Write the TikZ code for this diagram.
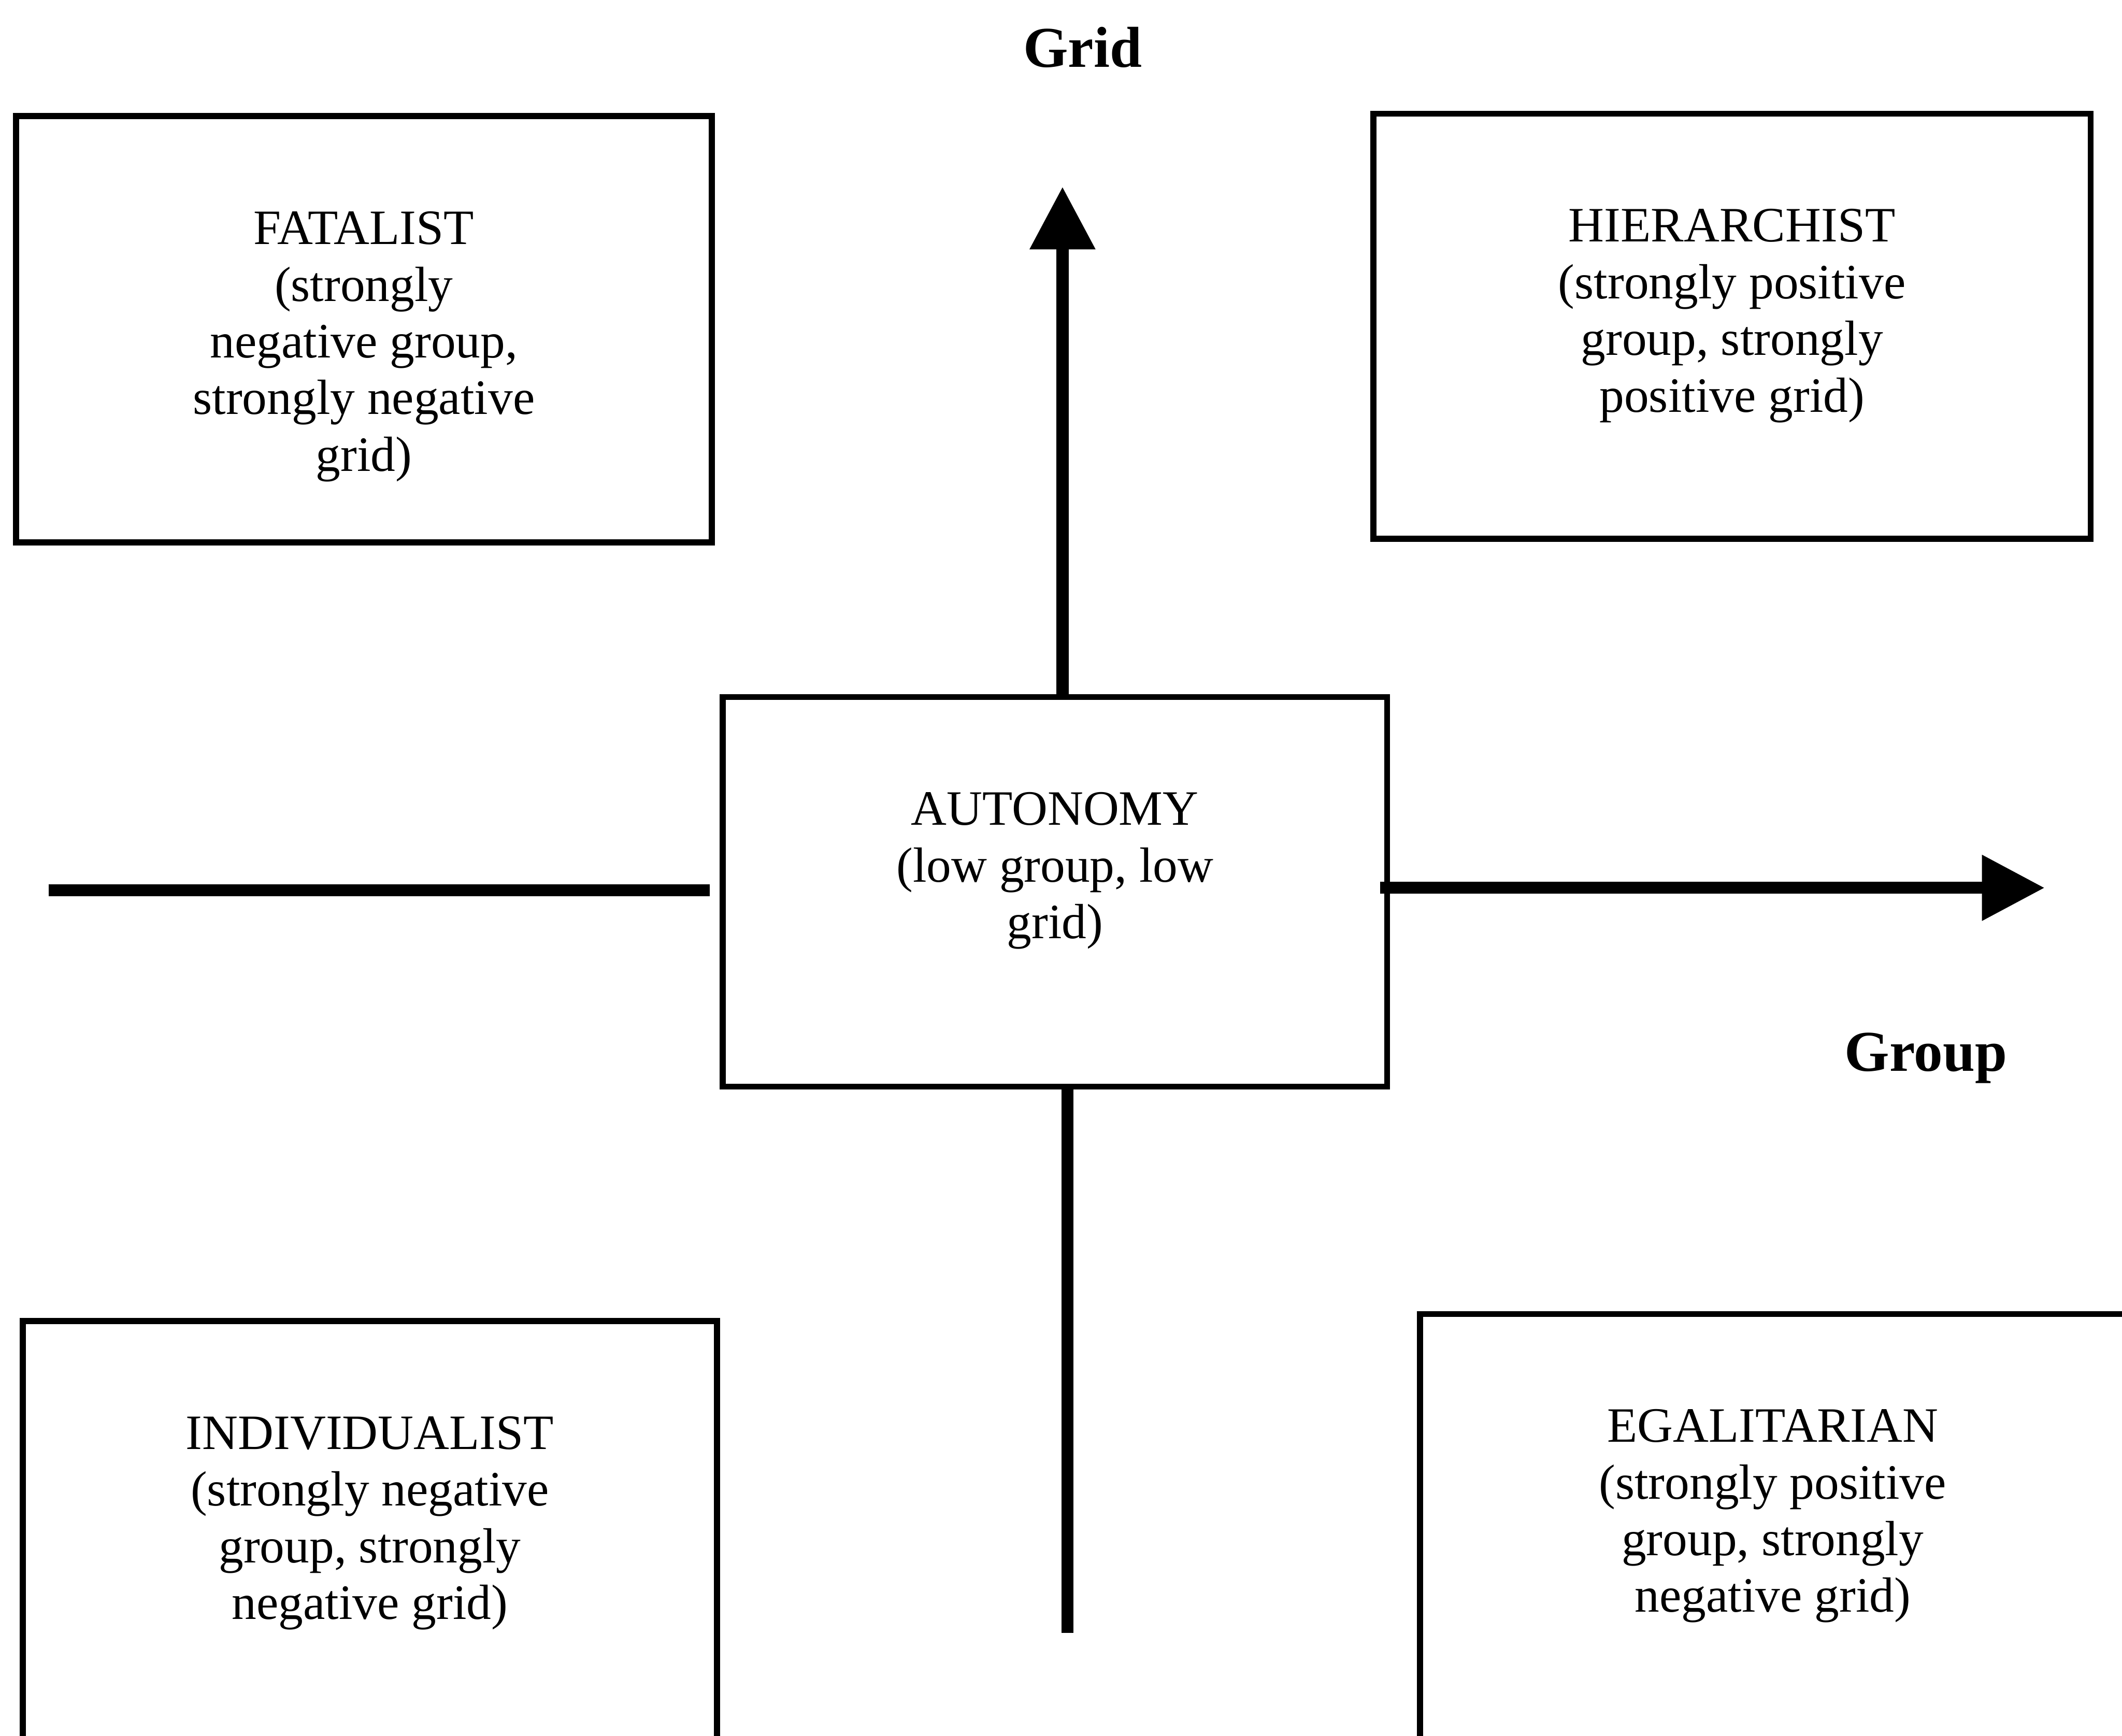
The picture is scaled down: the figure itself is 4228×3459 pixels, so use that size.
\documentclass[tikz,border=0pt]{standalone}
\usepackage{fontspec}
\setmainfont{Liberation Serif}
\usetikzlibrary{arrows.meta}
\usetikzlibrary{positioning}
\tikzset{
    quad/.style 2 args={draw, line width=1.2pt, inner sep=0pt, minimum width=#1, minimum height=#2},
    quadtext/.style={align=center, inner sep=0pt, font=\fontsize{9.85}{11.3}\selectfont},
    axis/.style={line width=2.4pt},
    axisarrow/.style={axis, -{Triangle[length=12.5pt, width=12.5pt]}},
    axislabel/.style={font=\fontsize{11.5}{13}\selectfont\bfseries}
}

\begin{document}
\begin{tikzpicture}[x=0.1pt, y=-0.1pt]
    \clip (0,0) rectangle (4228,3459);
    \node[quad={138.6pt}{84.9pt}] (fatal) at (725,656) {};
    \node[quad={142.9pt}{84.7pt}] (hier) at (3451,650) {};
    \node[quad={132.4pt}{77.6pt}] (auto) at (2102,1777) {};
    \node[quad={138.3pt}{100pt}] (indiv) at (737,3132) {};
    \node[quad={140.6pt}{100pt}] (egal) at (3532,3118) {};
    \node[quadtext, below=19.4pt of fatal.north] (fatal-txt) {FATALIST\\(strongly\\negative group,\\strongly negative\\grid)};
    \node[quadtext, below=19.4pt of hier.north] (hier-txt) {HIERARCHIST\\(strongly positive\\group, strongly\\positive grid)};
    \node[quadtext, below=19.4pt of auto.north] (auto-txt) {AUTONOMY\\(low group, low\\grid)};
    \node[quadtext, below=19.4pt of indiv.north] (indiv-txt) {INDIVIDUALIST\\(strongly negative\\group, strongly\\negative grid)};
    \node[quadtext, below=19.4pt of egal.north] (egal-txt) {EGALITARIAN\\(strongly positive\\group, strongly\\negative grid)};
    \node[axislabel] (grid-lbl) at (2157,94) {Grid};
    \node[axislabel] (group-lbl) at (3837,2108) {Group};
    \coordinate (gridtop) at (2117,372);
    \coordinate (gridbot) at (2127,3254);
    \coordinate (groupleft) at (97,1774);
    \coordinate (groupright) at (4074,1769);
    \draw[axisarrow] (gridtop |- auto.north) -- (gridtop);
    \draw[axis] (gridbot |- auto.south) -- (gridbot);
    \draw[axis, shorten >=2pt] (groupleft) -- (groupleft -| auto.west);
    \draw[axisarrow, shorten <=-2pt] (groupright -| auto.east) -- (groupright);
\end{tikzpicture}
\end{document}
